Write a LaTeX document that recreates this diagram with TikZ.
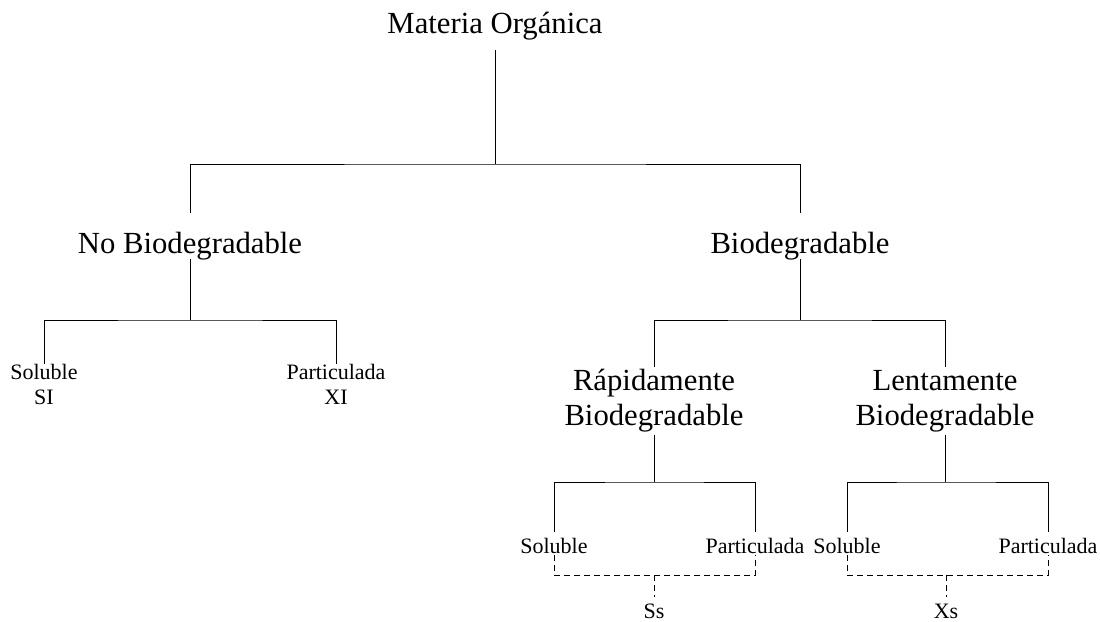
\documentclass[tikz,border=0pt]{standalone}
\usepackage{fontspec}
\setmainfont{Liberation Serif}
\usetikzlibrary{positioning}

\begin{document}
\begin{tikzpicture}[
      x=1pt, y=-1pt,
      every node/.style={inner sep=0pt},
      toplbl/.style={font=\fontsize{30.7}{35}\selectfont, anchor=base, text height=21pt, text depth=17pt},
      midlbl/.style={font=\fontsize{30.7}{35}\selectfont, anchor=base, text height=40pt, text depth=6pt},
      twolbl/.style={font=\fontsize{30.7}{35}\selectfont, align=center, minimum height=67pt},
      sidelbl/.style={font=\fontsize{22}{25}\selectfont, align=center},
      leaflbl/.style={font=\fontsize{22}{25}\selectfont, anchor=base, text height=21pt, text depth=2pt},
      branch/.style={draw, line width=1pt},
      group/.style={draw, line width=1pt, dash pattern=on 6pt off 4pt}
    ]
      \useasboundingbox (0,0) rectangle (1100,621);

      \node[toplbl] (root) at (495,33) {Materia Orgánica};
      \node[midlbl] (nobio) at (190,253) {No Biodegradable};
      \node[midlbl] (bio) at (800,253) {Biodegradable};
      \node[sidelbl] (si) at (44,384) {Soluble\\SI};
      \node[sidelbl] (xi) at (336,384) {Particulada\\XI};
      \node[twolbl] (rapida) at (654,401) {Rápidamente\\Biodegradable};
      \node[twolbl] (lenta) at (945,401) {Lentamente\\Biodegradable};
      \node[leaflbl] (rsol) at (554,553) {Soluble};
      \node[leaflbl] (rpart) at (755,553) {Particulada};
      \node[leaflbl] (lsol) at (847,553) {Soluble};
      \node[leaflbl] (lpart) at (1048,553) {Particulada};
      \node[leaflbl] (ss) at (654,618) {Ss};
      \node[leaflbl] (xs) at (946,618) {Xs};

      \coordinate (rootjoin) at (495,164);
      \coordinate (nobiojoin) at (190,320);
      \coordinate (biojoin) at (800,320);
      \coordinate (rapidajoin) at (654,482);
      \coordinate (lentajoin) at (945,482);
      \coordinate (ssjoin) at (654,575);
      \coordinate (xsjoin) at (946,575);

      \draw[branch] (root.south) -- (rootjoin);
      \draw[branch] (nobio.north) |- (rootjoin) -| (bio.north);
      \draw[branch] (nobio.south) -- (nobiojoin);
      \draw[branch] (si.north) |- (nobiojoin) -| (xi.north);
      \draw[branch] (bio.south) -- (biojoin);
      \draw[branch] (rapida.north) |- (biojoin) -| (lenta.north);
      \draw[branch] (rapida.south) -- (rapidajoin);
      \draw[branch] (rsol.north) |- (rapidajoin) -| (rpart.north);
      \draw[branch] (lenta.south) -- (lentajoin);
      \draw[branch] (lsol.north) |- (lentajoin) -| (lpart.north);

      \draw[group] (rsol.south) |- (ssjoin) -| (rpart.south);
      \draw[group] (ssjoin) -- (ss.north);
      \draw[group] (lsol.south) |- (xsjoin) -| (lpart.south);
      \draw[group] (xsjoin) -- (xs.north);
    \end{tikzpicture}
\end{document}
